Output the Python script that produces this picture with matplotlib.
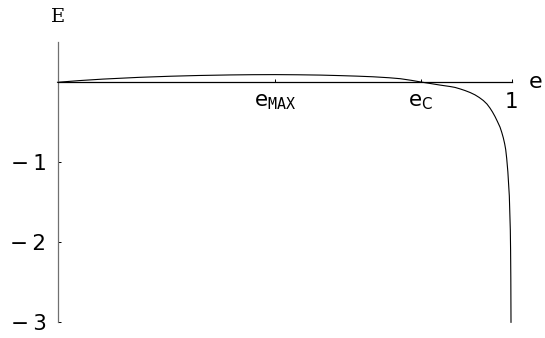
import matplotlib
matplotlib.use("Agg")
import matplotlib.pyplot as plt

# values
e_vals = [0.0, 0.05, 0.10, 0.18, 0.25, 0.31, 0.38, 0.43, 0.48, 0.53, 0.58,
          0.62, 0.66, 0.695, 0.73, 0.755, 0.78, 0.80, 0.82, 0.843, 0.865,
          0.8756, 0.887, 0.8976, 0.909, 0.9196, 0.929, 0.938, 0.946, 0.9526,
          0.958, 0.9637, 0.969, 0.9747, 0.9785, 0.982, 0.985, 0.9872, 0.9894,
          0.992, 0.9952, 0.9974, 0.998, 0.9985, 0.9989]
E_vals = [0.0, 0.022, 0.040, 0.062, 0.076, 0.085, 0.092, 0.095, 0.096, 0.094,
          0.090, 0.084, 0.077, 0.069, 0.057, 0.045, 0.024, 0.004, -0.014,
          -0.035, -0.053, -0.064, -0.083, -0.103, -0.128, -0.157, -0.190,
          -0.228, -0.272, -0.322, -0.370, -0.428, -0.490, -0.560, -0.625,
          -0.695, -0.77, -0.84, -0.95, -1.12, -1.42, -1.85, -2.10, -2.45, -3.0]

x_ticks = [0.48, 0.80, 1.0]
x_ticklabels = [r'$\mathrm{e}_{\mathtt{MAX}}$', r'$\mathrm{e}_{\mathrm{C}}$', '1']
y_ticks = [-1, -2, -3]
y_ticklabels = ['\u2212\u20091', '\u2212\u20092', '\u2212\u20093']

fig = plt.figure(figsize=(5.45, 3.38), dpi=100)
ax = fig.add_axes([57.5 / 545, 15.7 / 338, 454 / 545, 280 / 338])

ax.plot(e_vals, E_vals, color='black', linewidth=0.8, clip_on=False)

ax.set_xlim(0, 1)
ax.set_ylim(-3, 0.5)

ax.spines['top'].set_visible(False)
ax.spines['right'].set_visible(False)
ax.spines['bottom'].set_position(('data', 0))
ax.spines['bottom'].set_linewidth(0.9)
ax.spines['bottom'].set_color('black')
ax.spines['left'].set_linewidth(0.9)
ax.spines['left'].set_color('#707070')

ax.set_xticks(x_ticks)
ax.set_xticklabels(x_ticklabels)
ax.set_yticks(y_ticks)
ax.set_yticklabels(y_ticklabels)

ax.tick_params(axis='x', direction='in', length=2.5, width=0.7, pad=7,
               labelsize=15.5, color='black')
ax.tick_params(axis='y', direction='in', length=2.5, width=0.7, pad=8,
               labelsize=15.5, color='black')

ax.text(0, 0.816, 'E', fontsize=14, family='DejaVu Serif',
        ha='center', va='center', clip_on=False)
ax.text(1.052, 0.0, 'e', fontsize=16,
        ha='center', va='center', clip_on=False)

fig.savefig('out.png', dpi=100)
